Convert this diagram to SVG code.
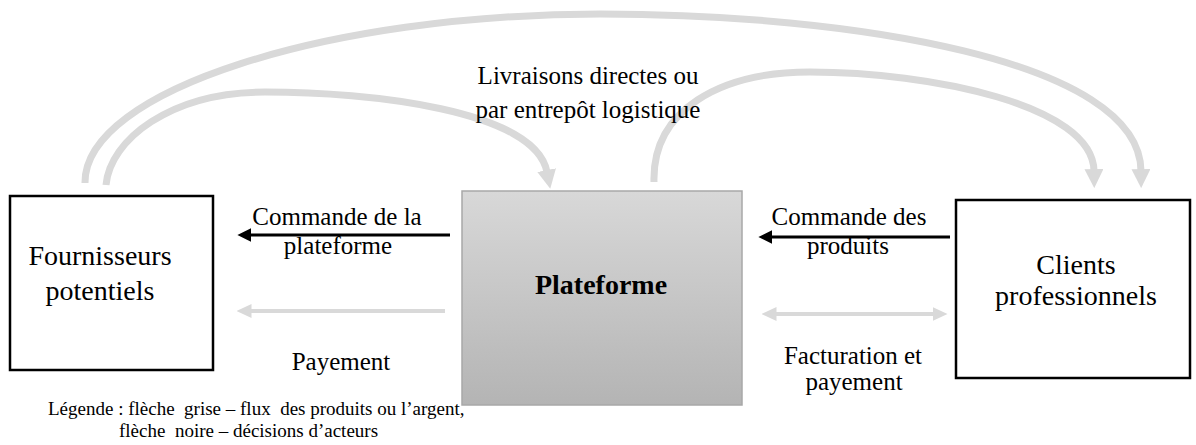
<svg xmlns="http://www.w3.org/2000/svg" width="1196" height="445" viewBox="0 0 1196 445">
<defs>
<linearGradient id="pg" x1="0" y1="0" x2="0" y2="1">
<stop offset="0" stop-color="#d8d8d8"/>
<stop offset="1" stop-color="#b4b4b4"/>
</linearGradient>
<marker id="gaBig" viewBox="0 0 10 10" refX="1" refY="5" markerWidth="19" markerHeight="19" markerUnits="userSpaceOnUse" orient="auto">
<path d="M0,0 L10,5 L0,10 z" fill="#d9d9d9"/>
</marker>
<marker id="ga" viewBox="0 0 10 10" refX="1" refY="5" markerWidth="15" markerHeight="14" markerUnits="userSpaceOnUse" orient="auto-start-reverse" preserveAspectRatio="none">
<path d="M0,0 L10,5 L0,10 z" fill="#d9d9d9"/>
</marker>
<marker id="ba" viewBox="0 0 10 10" refX="1" refY="5" markerWidth="14" markerHeight="14" markerUnits="userSpaceOnUse" orient="auto" preserveAspectRatio="none">
<path d="M0,0 L10,5 L0,10 z" fill="#000"/>
</marker>
</defs>
<style>
.t{font-family:"Liberation Serif","Times New Roman",serif;fill:#000;text-anchor:middle}
.n{font-size:28px}
.l{font-size:25px}
.lg{font-family:"Liberation Serif","Times New Roman",serif;font-size:19px;fill:#000;white-space:pre}
.box{fill:#fff;stroke:#000;stroke-width:2.5}
.arc{fill:none;stroke:#d9d9d9;stroke-width:7;marker-end:url(#gaBig)}
.gl{stroke:#d9d9d9;stroke-width:4;fill:none}
.bl{stroke:#000;stroke-width:3;fill:none;marker-end:url(#ba)}
</style>
<g id="connectors">
<path class="arc" d="M85,183 C84,90 330,14 600,14 C850,14 1140,60 1141,171"/>
<path class="arc" d="M106,185 C110,140 170,92 265,92 C370,92 535,110 547,172"/>
<path class="arc" d="M654,182 C652,110 720,72 810,72 C930,72 1093,105 1094,171"/>
<path class="bl" d="M450,235 L250,235"/>
<path class="gl" d="M445,311 L250,311" marker-end="url(#ga)"/>
<path class="bl" d="M950,237 L771,237"/>
<path class="gl" d="M775,314 L934,314" marker-start="url(#ga)" marker-end="url(#ga)"/>
</g>
<g id="fournisseurs">
<rect class="box" x="10" y="196" width="203" height="174"/>
<text class="t n" x="100" y="265">Fournisseurs</text>
<text class="t n" x="100" y="300">potentiels</text>
</g>
<g id="plateforme">
<rect x="462" y="191" width="280" height="214" fill="url(#pg)" stroke="#a8a8a8" stroke-width="1.5"/>
<text class="t n" x="601" y="294" font-weight="bold">Plateforme</text>
</g>
<g id="clients">
<rect class="box" x="956" y="200" width="234" height="178"/>
<text class="t n" x="1076" y="274">Clients</text>
<text class="t n" x="1076" y="305">professionnels</text>
</g>
<g id="labels">
<text class="t l" x="588" y="84">Livraisons directes ou</text>
<text class="t l" x="588" y="118">par entrepôt logistique</text>
<text class="t l" x="337" y="225">Commande de la</text>
<text class="t l" x="338" y="254">plateforme</text>
<text class="t l" x="341" y="370">Payement</text>
<text class="t l" x="849" y="225">Commande des</text>
<text class="t l" x="848" y="254">produits</text>
<text class="t l" x="853" y="364">Facturation et</text>
<text class="t l" x="854" y="390">payement</text>
</g>
<g id="legend">
<text class="lg" x="48" y="415" xml:space="preserve">Légende : flèche  grise – flux  des produits ou l’argent,</text>
<text class="lg" x="119" y="437" xml:space="preserve">flèche  noire – décisions d’acteurs</text>
</g>
</svg>
